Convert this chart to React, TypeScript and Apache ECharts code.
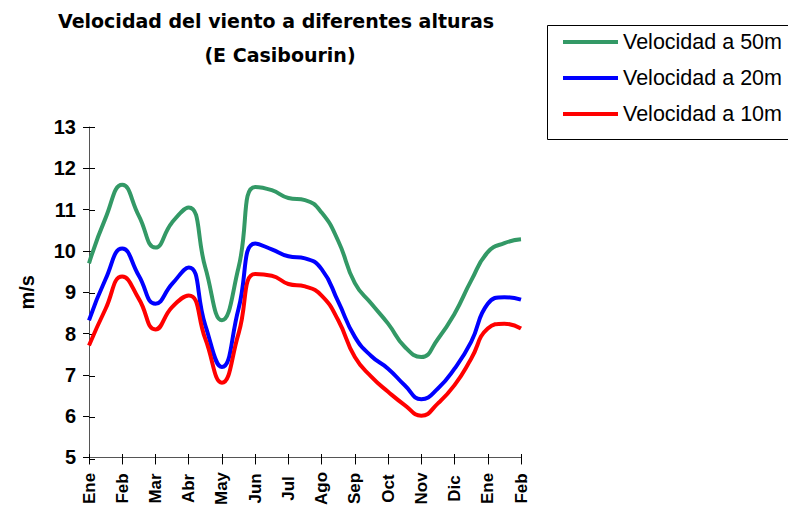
import { useEffect, useRef } from 'react';
import * as echarts from 'echarts';

const categories = ['Ene', '', 'Feb', '', 'Mar', '', 'Abr', '', 'May', '', 'Jun', '', 'Jul', '', 'Ago', '', 'Sep', '', 'Oct', '', 'Nov', '', 'Dic', '', 'Ene', '', 'Feb'];
const vel50 = [9.7, 10.8, 11.6, 10.85, 10.08, 10.69, 11.05, 9.6, 8.32, 9.6, 11.55, 11.47, 11.28, 11.23, 10.93, 10.24, 9.22, 8.72, 8.24, 7.68, 7.43, 7.87, 8.48, 9.28, 9.97, 10.19, 10.28];
const vel20 = [8.32, 9.32, 10.06, 9.4, 8.72, 9.2, 9.6, 8.2, 7.19, 8.6, 10.18, 10.04, 9.87, 9.82, 9.56, 8.77, 7.92, 7.45, 7.15, 6.75, 6.41, 6.67, 7.15, 7.8, 8.72, 8.88, 8.82];
const vel10 = [7.71, 8.6, 9.38, 8.84, 8.1, 8.64, 8.92, 7.87, 6.81, 8.0, 9.44, 9.4, 9.2, 9.14, 8.92, 8.32, 7.43, 6.95, 6.59, 6.27, 6.01, 6.31, 6.75, 7.39, 8.12, 8.24, 8.12];
const seriesNames = ['Velocidad a 50m', 'Velocidad a 20m', 'Velocidad a 10m'];
const seriesColors = ['#339966', '#0000FF', '#FF0000'];
const titleLines = ['Velocidad del viento a diferentes alturas', '(E Casibourin)'];
const yName = 'm/s';

const FONT = '"Liberation Sans", Arial, sans-serif';
const TFONT = '"DejaVu Sans", "Liberation Sans", Arial, sans-serif';

export default function App() {
  const ref = useRef<HTMLDivElement>(null);
  useEffect(() => {
    if (!ref.current) return;
    const chart = echarts.init(ref.current, null, { renderer: 'svg' });
    const grid = { left: 89, right: 267, top: 127, bottom: 49 };
    const showEven = (idx: number) => idx % 2 === 0;
    const data = [vel50, vel20, vel10];
    chart.setOption({
      animation: false,
      backgroundColor: '#fff',
      color: seriesColors,
      textStyle: { fontFamily: FONT },
      graphic: [
        { type: 'text', x: 276, y: 21, style: { text: titleLines[0], font: `bold 19px ${TFONT}`, fill: '#000', textAlign: 'center', textVerticalAlign: 'middle' } },
        { type: 'text', x: 280, y: 55, style: { text: titleLines[1], font: `bold 19px ${TFONT}`, fill: '#000', textAlign: 'center', textVerticalAlign: 'middle' } },
        { type: 'rect', shape: { x: 547.5, y: 25.5, width: 260, height: 114 }, style: { fill: 'none', stroke: '#000', lineWidth: 1 } },
      ],
      legend: {
        orient: 'vertical', left: 563, top: 31, padding: 0,
        itemWidth: 55, itemHeight: 4, itemGap: 14, icon: 'rect',
        textStyle: { fontSize: 21.5, color: '#000', fontFamily: FONT },
        data: seriesNames,
      },
      grid: [grid, grid],
      xAxis: [
        {
          type: 'category', gridIndex: 0, data: categories, boundaryGap: false,
          axisLine: { lineStyle: { color: '#555', width: 1 } },
          axisTick: { show: true, interval: showEven, length: 7, lineStyle: { color: '#000' } },
          axisLabel: { interval: showEven, rotate: 90, align: 'center', verticalAlign: 'middle', margin: 31, fontSize: 17, fontWeight: 'bold', color: '#000', fontFamily: FONT },
          splitLine: { show: false },
        },
        {
          type: 'category', gridIndex: 1, data: categories, boundaryGap: false,
          axisLine: { show: false },
          axisTick: { show: true, inside: true, interval: showEven, length: 5, lineStyle: { color: '#000' } },
          axisLabel: { show: false },
          splitLine: { show: false },
        },
      ],
      yAxis: [
        {
          type: 'value', gridIndex: 0, min: 5, max: 13, interval: 1,
          name: yName, nameLocation: 'middle', nameRotate: 90, nameGap: 52,
          nameTextStyle: { fontSize: 20, fontWeight: 'bold', color: '#000', fontFamily: FONT },
          axisLine: { show: true, lineStyle: { color: '#555', width: 1 } },
          axisTick: { show: true, length: 6, lineStyle: { color: '#000' } },
          axisLabel: { margin: 13, fontSize: 20, fontWeight: 'bold', color: '#000', fontFamily: FONT },
          splitLine: { show: false },
        },
        {
          type: 'value', gridIndex: 1, min: 5, max: 13, interval: 1,
          axisLine: { show: false },
          axisTick: { show: true, inside: true, length: 6, lineStyle: { color: '#000' } },
          axisLabel: { show: false },
          splitLine: { show: false },
        },
      ],
      series: seriesNames.map((name, i) => ({
        name, type: 'line', xAxisIndex: 0, yAxisIndex: 0, data: data[i],
        smooth: 0.5, symbol: 'none', showSymbol: false,
        lineStyle: { width: 4, color: seriesColors[i] },
        itemStyle: { color: seriesColors[i] },
        z: 3 + i,
      })),
    });
    return () => chart.dispose();
  }, []);
  return <div ref={ref} style={{ position: 'absolute', left: 0, top: 0, width: 788, height: 508 }} />;
}
